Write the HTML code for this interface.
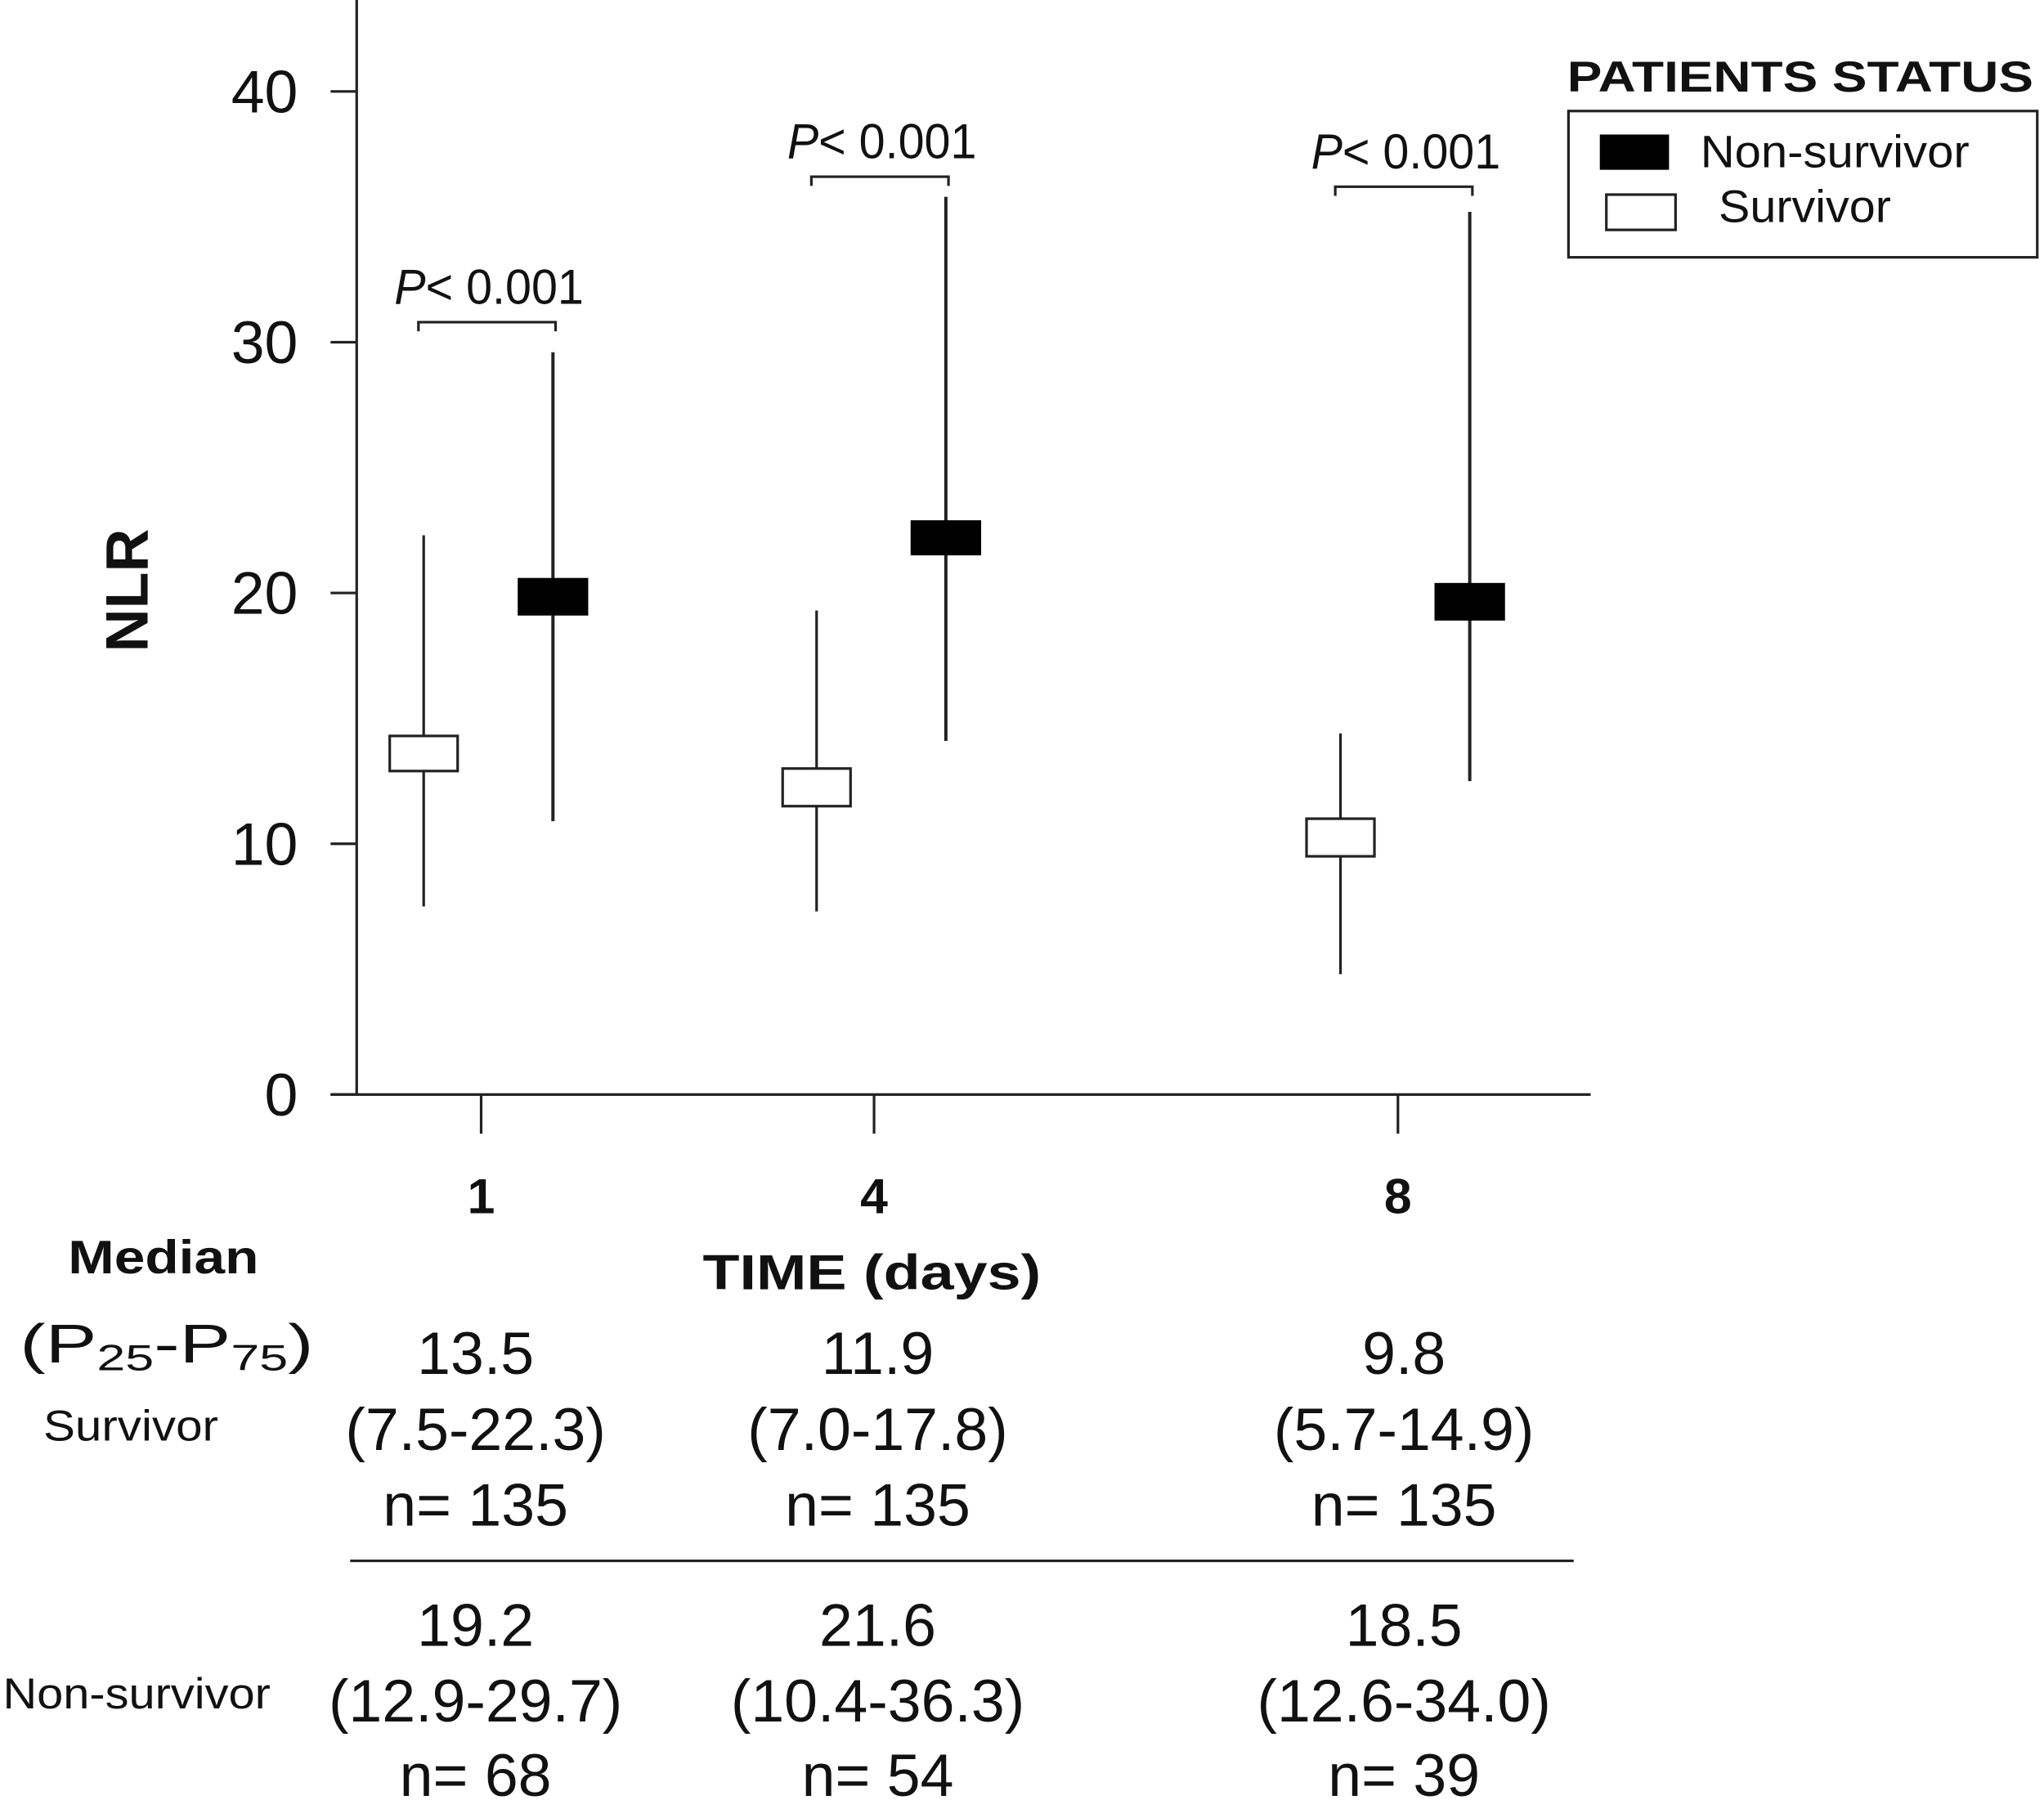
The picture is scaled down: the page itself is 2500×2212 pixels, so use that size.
<!DOCTYPE html>
<html><head><meta charset="utf-8"><style>
html,body{margin:0;padding:0;background:#fff;width:2500px;height:2212px;overflow:hidden}
svg{display:block}
text{font-family:"Liberation Sans",sans-serif;fill:#111}
</style></head><body>
<svg id="chart" width="2500" height="2212" viewBox="0 0 1565 1385" xmlns="http://www.w3.org/2000/svg">
<g id="axes" stroke="#222" stroke-width="2" fill="none">
<line x1="273" y1="0" x2="273" y2="838"/>
<line x1="253" y1="838" x2="1218" y2="838"/>
</g>
<g id="ticks"></g>
<g id="marks"></g>
<text transform="translate(113,452) rotate(-90)" text-anchor="middle" font-size="46" font-weight="bold">NLR</text>
<text x="538" y="987" font-size="38" font-weight="bold" textLength="259" lengthAdjust="spacingAndGlyphs">TIME (days)</text>
<g>
<text x="1200" y="70" font-size="33" font-weight="bold" textLength="357" lengthAdjust="spacingAndGlyphs">PATIENTS STATUS</text>
<rect x="1201" y="85" width="359" height="112" fill="none" stroke="#222" stroke-width="2"/>
<rect x="1225" y="103" width="53" height="27" fill="#000"/>
<text x="1302" y="128" font-size="35" textLength="206" lengthAdjust="spacingAndGlyphs">Non-survivor</text>
<rect x="1230" y="149" width="53" height="27" fill="#fff" stroke="#222" stroke-width="2"/>
<text x="1316" y="170" font-size="35" textLength="132" lengthAdjust="spacingAndGlyphs">Survivor</text>
</g>
<g font-size="40">
<text x="52" y="975" font-size="36" font-weight="bold" textLength="146" lengthAdjust="spacingAndGlyphs">Median</text>
<text x="15" y="1043" font-size="42" textLength="225" lengthAdjust="spacingAndGlyphs">(P<tspan font-size="28" dy="6">25</tspan><tspan dy="-6">-P</tspan><tspan font-size="28" dy="6">75</tspan><tspan dy="-6">)</tspan></text>
<text x="33" y="1103" font-size="33" textLength="134" lengthAdjust="spacingAndGlyphs">Survivor</text>
<text x="2" y="1308" font-size="33" textLength="205" lengthAdjust="spacingAndGlyphs">Non-survivor</text>
<line x1="268" y1="1195" x2="1205" y2="1195" stroke="#222" stroke-width="2"/>
<g id="tablecells"></g>
</g>
</svg>
<script>
const days = [1, 4, 8];
const yTicks = [0, 10, 20, 30, 40];
const survBoxLow = [12.9, 11.5, 9.5];
const survBoxHigh = [14.3, 13.0, 11.0];
const survWhiskLow = [7.5, 7.3, 4.8];
const survWhiskHigh = [22.3, 19.3, 14.4];
const nonBoxLow = [19.1, 21.5, 18.9];
const nonBoxHigh = [20.6, 22.9, 20.4];
const nonWhiskLow = [10.9, 14.1, 12.5];
const nonWhiskHigh = [29.6, 35.8, 35.2];
const pLabels = ["P< 0.001", "P< 0.001", "P< 0.001"];
const bracketVals = [30.8, 36.6, 36.2];
const survMedianText = ["13.5", "11.9", "9.8"];
const survRangeText = ["(7.5-22.3)", "(7.0-17.8)", "(5.7-14.9)"];
const survNText = ["n= 135", "n= 135", "n= 135"];
const nonMedianText = ["19.2", "21.6", "18.5"];
const nonRangeText = ["(12.9-29.7)", "(10.4-36.3)", "(12.6-34.0)"];
const nonNText = ["n= 68", "n= 54", "n= 39"];

const NS = "http://www.w3.org/2000/svg";
function y(v){ return 838 - v * 19.2; }
function x(d){ return 268 + 100.3 * d; }
function mk(tag, attrs, parent){ const e=document.createElementNS(NS,tag); for(const k in attrs) e.setAttribute(k,attrs[k]); parent.appendChild(e); return e; }
const ticks=document.getElementById('ticks'), marks=document.getElementById('marks'), cells=document.getElementById('tablecells');

yTicks.forEach(t=>{
  const l=mk('line',{x1:253,x2:273,y1:y(t),y2:y(t),stroke:'#222','stroke-width':2},ticks);
  
  
  const tx=mk('text',{x:228,y:y(t)+16,'text-anchor':'end','font-size':46},ticks);
  tx.textContent=t;
  
  
});
const cols=[364,672,1075];
days.forEach((d,i)=>{
  const l=mk('line',{x1:x(d),x2:x(d),y1:838,y2:868,stroke:'#222','stroke-width':2},ticks);
  
  
  const tx=mk('text',{x:x(d),y:929,'text-anchor':'middle','font-size':38,'font-weight':'bold'},ticks);
  tx.textContent=d;
  
  
  const xs=x(d)-44, xn=x(d)+55;
  const w1=mk('line',{x1:xs,x2:xs,y1:y(survWhiskLow[i]),y2:y(survWhiskHigh[i]),stroke:'#222','stroke-width':2},marks);
  
  
  const b1=mk('rect',{x:xs-26,y:y(survBoxHigh[i]),width:52,height:y(survBoxLow[i])-y(survBoxHigh[i]),fill:'#fff',stroke:'#222','stroke-width':2},marks);
  
  
  const w2=mk('line',{x1:xn,x2:xn,y1:y(nonWhiskLow[i]),y2:y(nonWhiskHigh[i]),stroke:'#222','stroke-width':2.5},marks);
  
  
  const b2=mk('rect',{x:xn-27,y:y(nonBoxHigh[i]),width:54,height:y(nonBoxLow[i])-y(nonBoxHigh[i]),fill:'#000'},marks);
  
  
  const by=y(bracketVals[i]);
  const br=mk('path',{d:`M${xs-4},${by+7} V${by} H${xn+2} V${by+7}`,fill:'none',stroke:'#222','stroke-width':2},marks);
  
  
  const cx=(xs+xn)/2;
  const pt=mk('text',{x:cx-72,y:by-14,'font-size':38,textLength:145,lengthAdjust:'spacingAndGlyphs'},marks);
  pt.innerHTML='<tspan font-style="italic">P</tspan>'+pLabels[i].slice(1);
  
  
  const rows=[[survMedianText[i],1052],[survRangeText[i],1110],[survNText[i],1168],[nonMedianText[i],1260],[nonRangeText[i],1318],[nonNText[i],1375]];
  rows.forEach(r=>{
    const c=mk('text',{x:cols[i],y:r[1],'text-anchor':'middle','font-size':46},cells);
    c.textContent=r[0];
    
    
  });
});
</script>
</body></html>
